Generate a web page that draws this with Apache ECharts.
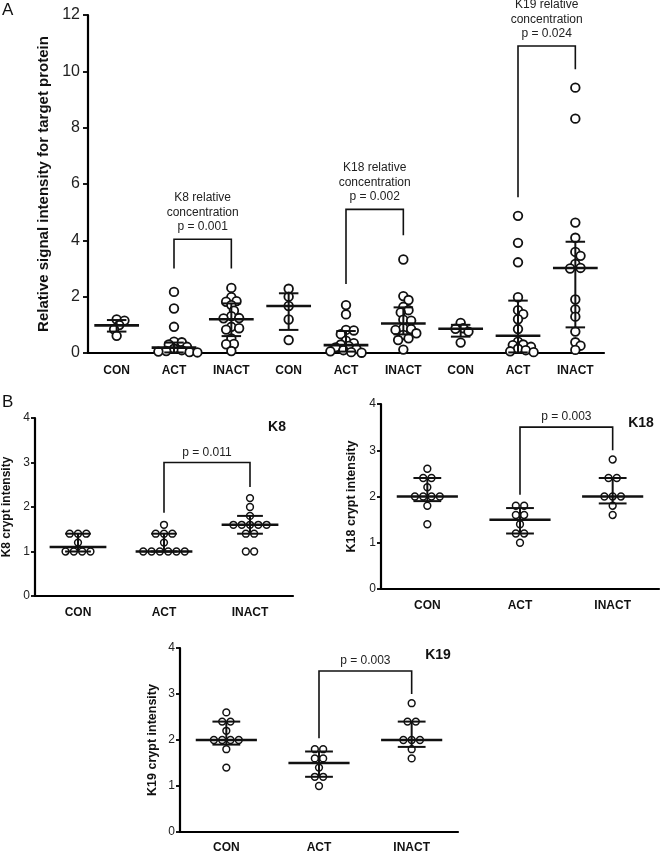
<!DOCTYPE html>
<html><head><meta charset="utf-8">
<script src="https://cdn.jsdelivr.net/npm/echarts@6/dist/echarts.min.js"></script>
<style>html,body{margin:0;padding:0;background:#fff}#c{width:670px;height:854px}</style>
</head><body><div id="c"></div>
<script>
// ---------- DATA ----------
const catsA = ['CON','ACT','INACT','CON','ACT','INACT','CON','ACT','INACT'];
const catsB = ['CON','ACT','INACT'];

// Panel A: relative signal intensity per group (K8 CON/ACT/INACT, K18 ..., K19 ...)
const aK8Con   = [1.19, 1.15, 0.99, 0.84, 0.61];
const aK8Act   = [2.17, 1.58, 0.93, 0.40, 0.38, 0.30, 0.22, 0.15, 0.10, 0.07, 0.05, 0.03, 0.02];
const aK8Inact = [2.31, 1.98, 1.84, 1.82, 1.70, 1.50, 1.31, 1.24, 1.23, 0.93, 0.88, 0.83, 0.52, 0.32, 0.31, 0.07];
const aK18Con  = [2.28, 2.00, 1.67, 1.19, 0.46];
const aK18Act  = [1.70, 1.37, 0.82, 0.80, 0.67, 0.44, 0.35, 0.30, 0.25, 0.20, 0.15, 0.10, 0.06, 0.03, 0.01];
const aK18Inact= [3.32, 2.02, 1.88, 1.64, 1.52, 1.44, 1.18, 1.15, 0.88, 0.85, 0.82, 0.70, 0.64, 0.52, 0.46, 0.12];
const aK19Con  = [1.07, 0.88, 0.86, 0.76, 0.37];
const aK19Act  = [4.87, 3.91, 3.22, 1.98, 1.52, 1.38, 1.20, 0.85, 0.40, 0.30, 0.28, 0.22, 0.15, 0.10, 0.06, 0.03];
const aK19Inact= [9.42, 8.32, 4.63, 4.09, 3.59, 3.45, 3.16, 3.02, 3.00, 1.90, 1.55, 1.29, 0.76, 0.38, 0.26, 0.11];
// centre line and error bar per group: [centre, low, high]
const aStats = [[0.98,0.76,1.17],[0.19,0.02,0.37],[1.20,0.60,1.76],
                [1.67,0.82,2.12],[0.28,0.05,0.78],[1.05,0.66,1.62],
                [0.86,0.58,1.00],[0.61,0.02,1.86],[3.02,0.91,3.95]];
// brackets: [fromCat, toCat, top, leftEnd, rightEnd]
const aBrackets = [[1,2,4.04,3.0,3.0],[4,5,5.1,2.45,4.18],[7,8,10.9,5.53,10.07]];
const aBracketText = [['K8 relative','concentration','p = 0.001'],
                      ['K18 relative','concentration','p = 0.002'],
                      ['K19 relative','concentration','p = 0.024']];
const aTicks = [0, 12, 2];

// Panel B: crypt intensity
const k8Con   = [1.4,1.4,1.4,1.2,1.0,1.0,1.0,1.0];
const k8Act   = [1.6,1.4,1.4,1.4,1.2,1.0,1.0,1.0,1.0,1.0,1.0];
const k8Inact = [2.2,2.0,1.8,1.6,1.6,1.6,1.6,1.6,1.4,1.4,1.0,1.0];
const k8Stats = [[1.1,1.0,1.4],[1.0,1.0,1.4],[1.6,1.4,1.8]];
const k8Bracket = [1,2,3.0,1.87,2.45];

const k18Con   = [2.6,2.4,2.4,2.2,2.0,2.0,2.0,2.0,1.8,1.4];
const k18Act   = [1.8,1.8,1.6,1.6,1.4,1.2,1.2,1.0];
const k18Inact = [2.8,2.4,2.4,2.0,2.0,2.0,1.8,1.6];
const k18Stats = [[2.0,1.9,2.4],[1.5,1.2,1.75],[2.0,1.85,2.4]];
const k18Bracket = [1,2,3.5,2.04,3.0];

const k19Con   = [2.6,2.4,2.4,2.2,2.0,2.0,2.0,2.0,1.8,1.4];
const k19Act   = [1.8,1.8,1.6,1.6,1.4,1.2,1.2,1.0];
const k19Inact = [2.8,2.4,2.4,2.0,2.0,2.0,1.8,1.6];
const k19Stats = [[2.0,1.9,2.4],[1.5,1.2,1.75],[2.0,1.85,2.4]];
const k19Bracket = [1,2,3.5,2.04,3.0];
const bTicks = [0, 4, 1];

// ---------- RENDERING ----------
const FONT = '"Liberation Sans", Arial, Helvetica, sans-serif';
const INK = '#111';

function computeLayout(api, groups, d, f) {
  const out = []; let idx = 0;
  groups.forEach((vals, g) => {
    const pts = vals.map((v, j) => { const c = api.coord([g, v]); return {v, x: c[0], y: c[1], k: idx + j}; });
    idx += vals.length;
    const m = new Map();
    pts.forEach(p => { if (!m.has(p.v)) m.set(p.v, []); m.get(p.v).push(p); });
    const rows = [...m.values()].sort((a, b) => (b.length - a.length) || (b[0].v - a[0].v));
    const placed = [];
    rows.forEach(row => {
      const n = row.length;
      for (let s = 0; s < 400; s++) {
        const k = s === 0 ? 0 : (s % 2 ? (s + 1) / 2 : -s / 2);
        const c = k * d / 4;
        const xs = row.map((p, j) => p.x + c + (j - (n - 1) / 2) * d);
        const ok = xs.every((x, j) => placed.every(q => Math.hypot(x - q[0], row[j].y - q[1]) >= d * f - 1e-6));
        if (ok) { row.forEach((p, j) => { out[p.k] = [xs[j], p.y]; placed.push([xs[j], p.y]); }); break; }
      }
    });
  });
  return out;
}

function swarmSeries(gi, groups, r, lw, f) {
  const data = [];
  groups.forEach((vals, g) => vals.forEach(v => data.push([g, v])));
  let pos = null;
  return {
    type: 'custom', xAxisIndex: gi, yAxisIndex: gi, z: 2, silent: true, clip: false, data,
    renderItem(params, api) {
      if (params.dataIndex === 0 || !pos) pos = computeLayout(api, groups, 2 * r + lw, f);
      const p = pos[params.dataIndex];
      return {type: 'circle', shape: {cx: p[0], cy: p[1], r}, style: {fill: '#fff', stroke: INK, lineWidth: lw}};
    }
  };
}

function statSeries(gi, stats, mw, cw, lwMean, lwErr) {
  return {
    type: 'custom', xAxisIndex: gi, yAxisIndex: gi, z: 3, silent: true, clip: false,
    data: stats.map((s, i) => [i, s[0], s[1], s[2]]),
    renderItem(params, api) {
      const band = api.size([1, 0])[0];
      const cat = api.value(0);
      const c = api.coord([cat, api.value(1)]);
      const lo = api.coord([cat, api.value(2)]);
      const hi = api.coord([cat, api.value(3)]);
      const ln = (x1, y1, x2, y2, w) => ({type: 'line', shape: {x1, y1, x2, y2}, style: {stroke: INK, lineWidth: w}});
      return {type: 'group', children: [
        ln(c[0], lo[1], c[0], hi[1], lwErr),
        ln(c[0] - band * cw / 2, lo[1], c[0] + band * cw / 2, lo[1], lwErr),
        ln(c[0] - band * cw / 2, hi[1], c[0] + band * cw / 2, hi[1], lwErr),
        ln(c[0] - band * mw / 2, c[1], c[0] + band * mw / 2, c[1], lwMean)
      ]};
    }
  };
}

function bracketSeries(gi, brackets, texts, fontSize, gap) {
  return {
    type: 'custom', xAxisIndex: gi, yAxisIndex: gi, z: 3, silent: true, clip: false,
    data: brackets,
    renderItem(params, api) {
      const b = brackets[params.dataIndex];
      const t1 = api.coord([b[0], b[2]]), t2 = api.coord([b[1], b[2]]);
      const l = api.coord([b[0], b[3]]), r = api.coord([b[1], b[4]]);
      return {type: 'group', children: [
        {type: 'polyline', shape: {points: [[l[0], l[1]], [t1[0], t1[1]], [t2[0], t2[1]], [r[0], r[1]]]},
         style: {stroke: INK, lineWidth: 1.6, fill: null}},
        {type: 'text', style: {text: texts[params.dataIndex].join('\n'), x: (t1[0] + t2[0]) / 2, y: t1[1] - gap,
         align: 'center', verticalAlign: 'bottom', font: fontSize + 'px ' + FONT, lineHeight: 14.5, fill: '#222'}}
      ]};
    }
  };
}

const grids = [
  {left: 88, top: 15, width: 516, height: 338},
  {left: 35, top: 418, width: 258, height: 178},
  {left: 381, top: 404, width: 278, height: 185},
  {left: 180, top: 648, width: 278, height: 184}
].map(g => Object.assign(g, {containLabel: false, outerBoundsMode: 'none'}));

function xAx(gi, cats, margin) {
  return {type: 'category', gridIndex: gi, data: cats,
    axisLine: {lineStyle: {color: '#000', width: 2.2}},
    axisTick: {alignWithLabel: true, length: 5, lineStyle: {color: '#000', width: 2}},
    axisLabel: {fontFamily: FONT, fontWeight: 'bold', fontSize: 12, color: INK, margin},
    splitLine: {show: false}};
}
function yAx(gi, ticks, name, fs, nfs, gap, tl, lm) {
  return {type: 'value', gridIndex: gi, min: ticks[0], max: ticks[1], interval: ticks[2],
    name, nameLocation: 'middle', nameGap: gap,
    nameTextStyle: {fontFamily: FONT, fontWeight: 'bold', fontSize: nfs, color: INK},
    axisLine: {show: true, lineStyle: {color: '#000', width: 2.2}},
    axisTick: {show: true, length: tl, lineStyle: {color: '#000', width: 1.8}},
    axisLabel: {fontFamily: FONT, fontSize: fs, color: '#222', margin: lm},
    splitLine: {show: false}};
}

const txt = (x, y, text, size, weight, align) => ({type: 'text', x, y,
  style: {text, font: (weight || 'normal') + ' ' + size + 'px ' + FONT, fill: '#111', align: align || 'left', verticalAlign: 'middle'}});

const option = {
  backgroundColor: '#fff',
  animation: false,
  grid: grids,
  xAxis: [xAx(0, catsA, 12), xAx(1, catsB, 11), xAx(2, catsB, 11), xAx(3, catsB, 10)],
  yAxis: [yAx(0, aTicks, 'Relative signal intensity for target protein', 16, 15, 33, 5, 8),
          yAx(1, bTicks, 'K8 crypt intensity', 12, 12, 22, 4, 5),
          yAx(2, bTicks, 'K18 crypt intensity', 12, 12.5, 23, 4, 5),
          yAx(3, bTicks, 'K19 crypt intensity', 12, 12.5, 21, 4, 5)],
  graphic: [
    txt(2, 10, 'A', 17), txt(2, 402, 'B', 17),
    txt(277, 427, 'K8', 14, 'bold', 'center'),
    txt(641, 423, 'K18', 14, 'bold', 'center'),
    txt(438, 655, 'K19', 14, 'bold', 'center')
  ],
  series: [
    swarmSeries(0, [aK8Con, aK8Act, aK8Inact, aK18Con, aK18Act, aK18Inact, aK19Con, aK19Act, aK19Inact], 4.3, 1.8, 0.56),
    statSeries(0, aStats, 0.78, 0.34, 2.6, 2),
    bracketSeries(0, aBrackets, aBracketText, 12, 5),
    swarmSeries(1, [k8Con, k8Act, k8Inact], 3.4, 1.5, 0.98),
    statSeries(1, k8Stats, 0.66, 0.3, 2.5, 2),
    bracketSeries(1, [k8Bracket], [['p = 0.011']], 12, 3),
    swarmSeries(2, [k18Con, k18Act, k18Inact], 3.4, 1.5, 0.98),
    statSeries(2, k18Stats, 0.66, 0.3, 2.5, 2),
    bracketSeries(2, [k18Bracket], [['p = 0.003']], 12, 3),
    swarmSeries(3, [k19Con, k19Act, k19Inact], 3.4, 1.5, 0.98),
    statSeries(3, k19Stats, 0.66, 0.3, 2.5, 2),
    bracketSeries(3, [k19Bracket], [['p = 0.003']], 12, 3)
  ]
};
const chart = echarts.init(document.getElementById('c'), null, {renderer: 'canvas'});
chart.setOption(option);
</script></body></html>
